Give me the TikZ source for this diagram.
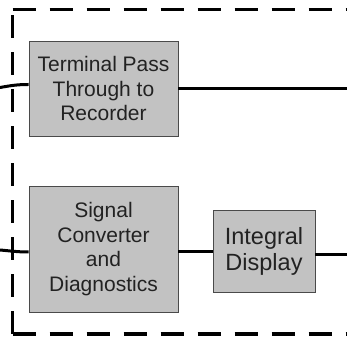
\documentclass[tikz,border=0pt]{standalone}
\usepackage{fontspec}
\setmainfont{Liberation Sans}
\usepackage{tikz}
\usepackage{xcolor}
\usetikzlibrary{positioning}

\definecolor{boxgray}{HTML}{C2C2C2}
\definecolor{edgegray}{HTML}{4A4A4A}
\definecolor{textgray}{HTML}{222222}

\begin{document}
\begin{tikzpicture}[x=1pt, y=1pt,
                    block/.style={rectangle, draw=edgegray, line width=0.9pt, fill=boxgray, text=textgray, align=center, inner sep=0pt, font=\fontsize{21}{24.5}\selectfont},
                    wire/.style={line width=3pt, black},
                    frame/.style={line width=3.6pt, black, dash pattern=on 23pt off 14pt}]
                    \useasboundingbox (0, 0) rectangle (347, 339);

                    \node[block, minimum width=149pt, minimum height=95pt] (pass) at (103.5, 250.5) {Terminal Pass\\Through to\\Recorder};
                    \node[block, minimum width=149pt, minimum height=126pt] (conv) at (103.5, 90) {Signal\\Converter\\and\\Diagnostics};
                    \node[block, minimum width=102pt, minimum height=82pt, font=\fontsize{23.5}{26}\selectfont] (disp) at (264, 87.5) {Integral\\Display};

                    \coordinate (passin) at (0, 251.5);
                    \coordinate (passout) at (347, 250.5);
                    \coordinate (convin) at (0, 89);
                    \coordinate (dispout) at (347, 84);

                    \draw[frame] (12.5, 329.5) -- (347, 329.5);
                    \draw[frame] (12.5, 5) -- (12.5, 329.5);
                    \draw[frame] (12.5, 5) -- (347, 5);

                    \draw[wire] (passin) to[out=10, in=180] ([yshift=4pt]pass.west);
                    \draw[wire] (pass.east) -- (passout);
                    \draw[wire] (convin) to[out=-5, in=180] ([yshift=-3pt]conv.west);
                    \draw[wire] (conv.east |- disp.west) -- (disp.west);
                    \draw[wire] ([yshift=-3.5pt]disp.east) -- (dispout);
                \end{tikzpicture}
\end{document}
